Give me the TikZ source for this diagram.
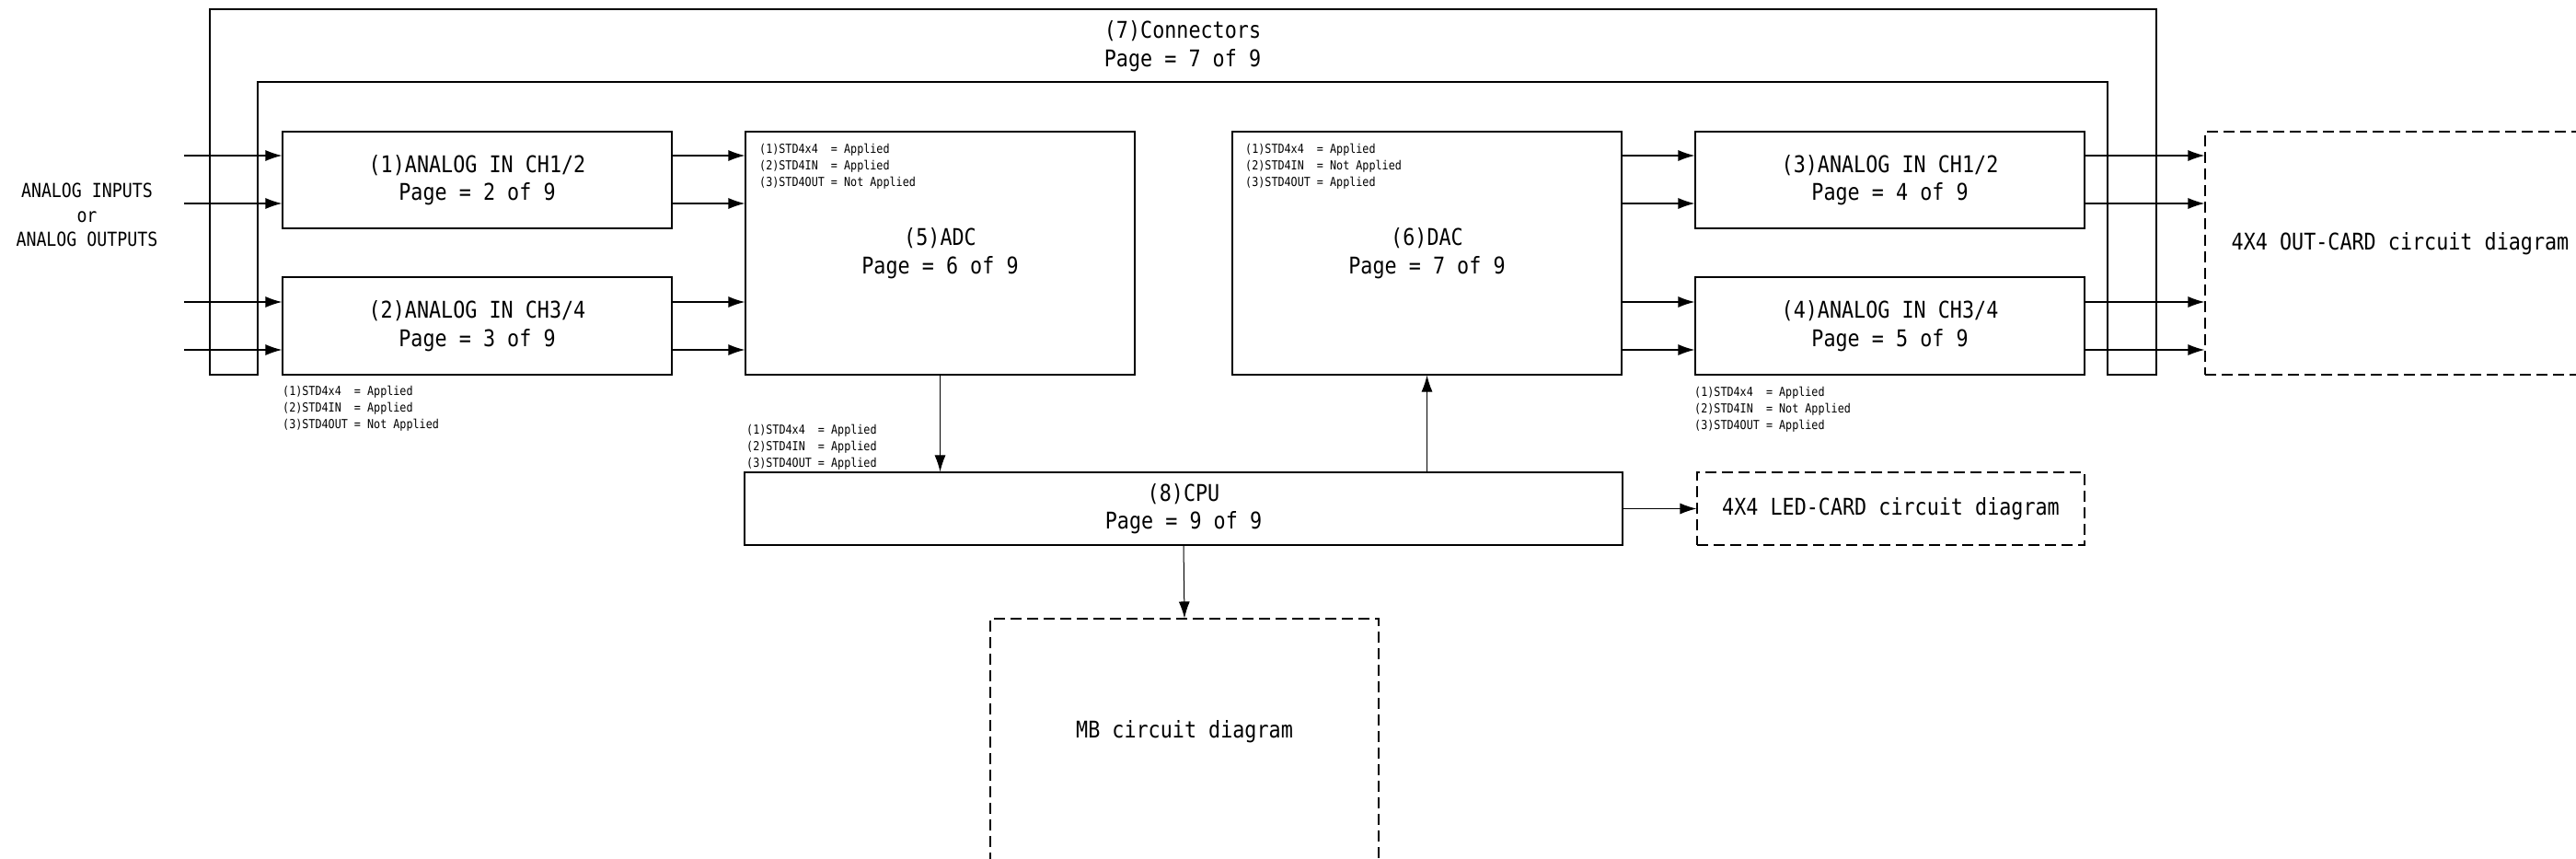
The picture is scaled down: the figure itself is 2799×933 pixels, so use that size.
\documentclass[tikz,border=0pt]{standalone}
\usepackage{fontspec}
\usetikzlibrary{arrows.meta}
\newfontfamily\monofam{DejaVu Sans Mono}[FakeStretch=0.87]
\newcommand\myT{\monofam\fontsize{25}{30.5}\selectfont}
\newcommand\myL{\monofam\fontsize{21}{26.5}\selectfont}
\newcommand\myN{\monofam\fontsize{13.5}{18}\selectfont}
\tikzset{
  lw/.style={line width=1.2pt},
  box/.style={draw, lw, inner sep=0pt, align=center, font=\myT, minimum width=423pt},
  dbox/.style={draw, line width=1.1pt, dash pattern=on 12pt off 6pt, inner sep=0pt, align=center, font=\myT},
  arr/.style={lw, -{Latex[length=18pt,width=12pt]}},
  varr/.style={line width=1pt, -{Latex[length=18pt,width=12pt]}},
  note/.style={anchor=north west, inner sep=0pt, align=left, font=\myN},
  frame/.style={lw},
  plain/.style={inner sep=0pt, align=center, font=\myT}
}
\begin{document}
\begin{tikzpicture}[x=1pt,y=-1pt]
\useasboundingbox (0,0) rectangle (2799,933);
\clip (0,0) rectangle (2799,933);

% connectors frame
\draw[frame] (228,407) -- (228,10) -- (2343,10) -- (2343,407) -- (2290,407)
  -- (2290,89) -- (280,89) -- (280,407) -- cycle;
\node[plain] (conn) at (1285,50) {(7)Connectors\\Page = 7 of 9};

% left label
\node[inner sep=0pt, align=center, font=\myL] (ain) at (94.5,233.5) {ANALOG INPUTS\\or\\ANALOG OUTPUTS};

% boxes
\node[box, minimum height=105pt] (b1) at (518.5,195.5) {(1)ANALOG IN CH1/2\\Page = 2 of 9};
\node[box, minimum height=106pt] (b2) at (518.5,354) {(2)ANALOG IN CH3/4\\Page = 3 of 9};
\node[box, minimum height=264pt] (adc) at (1021.5,275) {(5)ADC\\Page = 6 of 9};
\node[box, minimum height=264pt] (dac) at (1550.5,275) {(6)DAC\\Page = 7 of 9};
\node[box, minimum height=105pt] (b3) at (2053.5,195.5) {(3)ANALOG IN CH1/2\\Page = 4 of 9};
\node[box, minimum height=106pt] (b4) at (2053.5,354) {(4)ANALOG IN CH3/4\\Page = 5 of 9};
\node[box, minimum width=954pt, minimum height=79pt] (cpu) at (1286,552.5) {(8)CPU\\Page = 9 of 9};

\node[dbox, minimum width=421pt, minimum height=79pt] (led) at (2054.5,552.5) {4X4 LED-CARD circuit diagram};
\node[dbox, minimum width=424pt, minimum height=264pt] (out) at (2608,275) {};
\node[plain] (outtxt) at (2608,265) {4X4 OUT-CARD circuit diagram};
\node[dbox, minimum width=422pt, minimum height=270pt] (mb) at (1287,807) {};
\node[plain] (mbtxt) at (1287,795) {MB circuit diagram};

% notes
\node[note] (nadc) at (825,156) {(1)STD4x4~ = Applied\\(2)STD4IN~ = Applied\\(3)STD4OUT = Not Applied};
\node[note] (ndac) at (1353,156) {(1)STD4x4~ = Applied\\(2)STD4IN~ = Not Applied\\(3)STD4OUT = Applied};
\node[note] (nb2) at (307,419) {(1)STD4x4~ = Applied\\(2)STD4IN~ = Applied\\(3)STD4OUT = Not Applied};
\node[note] (nb4) at (1841,420) {(1)STD4x4~ = Applied\\(2)STD4IN~ = Not Applied\\(3)STD4OUT = Applied};
\node[note] (ncpu) at (811,461) {(1)STD4x4~ = Applied\\(2)STD4IN~ = Applied\\(3)STD4OUT = Applied};

% level coordinates
\coordinate (i1) at (200,169);
\coordinate (i2) at (200,221);
\coordinate (i3) at (200,328);
\coordinate (i4) at (200,380);

% inputs
\foreach \c in {i1,i2}{\draw[arr] (\c) -- (b1.west |- \c);}
\foreach \c in {i3,i4}{\draw[arr] (\c) -- (b2.west |- \c);}
% to ADC
\foreach \c in {i1,i2}{\draw[arr] (b1.east |- \c) -- (adc.west |- \c);}
\foreach \c in {i3,i4}{\draw[arr] (b2.east |- \c) -- (adc.west |- \c);}
% DAC to outputs
\foreach \c in {i1,i2}{\draw[arr] (dac.east |- \c) -- (b3.west |- \c);}
\foreach \c in {i3,i4}{\draw[arr] (dac.east |- \c) -- (b4.west |- \c);}
\foreach \c in {i1,i2}{\draw[arr] (b3.east |- \c) -- (out.west |- \c);}
\foreach \c in {i3,i4}{\draw[arr] (b4.east |- \c) -- (out.west |- \c);}

% CPU links
\draw[varr] (adc.south) -- (adc.south |- cpu.north);
\draw[varr] (dac.south |- cpu.north) -- (dac.south);
\draw[arr] (cpu.east) -- (led.west);
\draw[varr] (cpu.south) -- (mb.north);
\end{tikzpicture}
\end{document}
